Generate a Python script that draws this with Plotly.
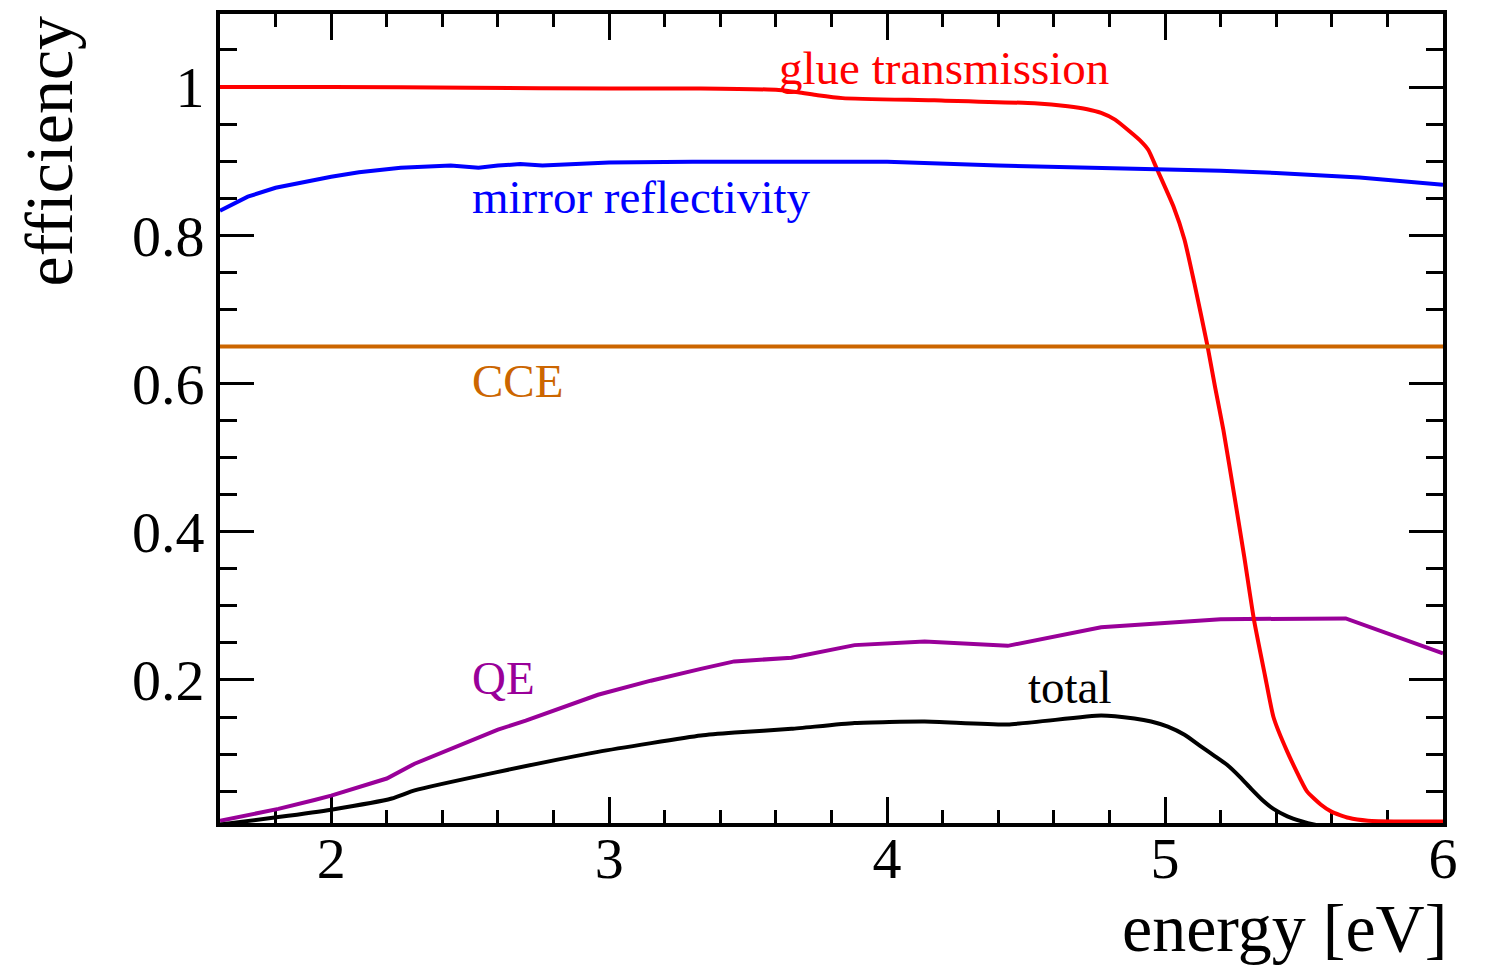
import plotly.graph_objects as go

# ---------------- data ----------------
glue_E = [1.6, 2.0, 2.5, 3.0, 3.33, 3.61, 3.68, 3.75, 3.84, 4.17, 4.53, 4.65, 4.72, 4.77,
          4.82, 4.87, 4.91, 4.94, 4.97, 5.03, 5.07, 5.105, 5.153, 5.18, 5.21, 5.25, 5.285,
          5.32, 5.36, 5.39, 5.44, 5.51, 5.56, 5.60, 5.66, 5.73, 5.85, 6.0]
glue_T = [1.0, 1.0, 0.999, 0.998, 0.998, 0.996, 0.993, 0.989, 0.985, 0.982, 0.978, 0.974,
          0.970, 0.965, 0.956, 0.941, 0.928, 0.915, 0.890, 0.839, 0.794, 0.736, 0.650,
          0.595, 0.537, 0.447, 0.366, 0.281, 0.205, 0.150, 0.103, 0.050, 0.032, 0.022,
          0.014, 0.010, 0.009, 0.009]

mirror_E = [1.6, 1.7, 1.8, 1.9, 2.0, 2.1, 2.25, 2.43, 2.53, 2.6, 2.68, 2.76, 3.0, 3.3,
            3.7, 4.0, 4.4, 4.8, 5.2, 5.4, 5.7, 6.0]
mirror_R = [0.833, 0.852, 0.864, 0.872, 0.879, 0.885, 0.891, 0.894, 0.891, 0.894, 0.896,
            0.894, 0.898, 0.899, 0.899, 0.899, 0.894, 0.891, 0.887, 0.884, 0.878, 0.868]

cce_E = [1.6, 6.0]
cce = [0.65, 0.65]

qe_E = [1.6, 1.81, 1.94, 2.0, 2.2, 2.3, 2.6, 2.7, 2.96, 3.15, 3.33, 3.45, 3.656, 3.883,
        4.135, 4.434, 4.77, 5.2, 5.65, 6.0]
qe = [0.010, 0.026, 0.038, 0.044, 0.067, 0.087, 0.133, 0.145, 0.180, 0.199, 0.215, 0.225,
      0.230, 0.247, 0.252, 0.246, 0.271, 0.282, 0.283, 0.236]

total_E = [1.6, 1.81, 2.0, 2.218, 2.3, 2.588, 2.96, 3.33, 3.452, 3.656, 3.883, 4.135,
           4.434, 4.77, 4.89, 4.95, 5.01, 5.07, 5.13, 5.18, 5.225, 5.27, 5.31, 5.35, 5.39,
           5.44, 5.49, 5.535, 5.6, 6.0]
total = [0.005, 0.015, 0.025, 0.040, 0.051, 0.075, 0.103, 0.125, 0.129, 0.134, 0.142,
         0.144, 0.140, 0.152, 0.148, 0.144, 0.137, 0.126, 0.110, 0.097, 0.085, 0.069,
         0.053, 0.038, 0.026, 0.016, 0.0095, 0.005, 0.001, 0.0]

y_tickvals = [0.2, 0.4, 0.6, 0.8, 1.0]
y_ticktext = ["0.2", "0.4", "0.6", "0.8", "1"]
x_tickvals = [2, 3, 4, 5, 6]
x_ticktext = ["2", "3", "4", "5", "6"]

# ---------------- styles ----------------
RED = "rgb(255,0,0)"
BLUE = "rgb(0,0,255)"
ORANGE = "rgb(204,102,0)"
PURPLE = "rgb(153,0,153)"
BLACK = "rgb(0,0,0)"
FONT = "Liberation Serif"
LW = 4

fig = go.Figure()
fig.add_trace(go.Scatter(x=qe_E, y=qe, mode="lines", line=dict(color=PURPLE, width=LW)))
fig.add_trace(go.Scatter(x=glue_E, y=glue_T, mode="lines",
                         line=dict(color=RED, width=LW, shape="spline", smoothing=0.5)))
fig.add_trace(go.Scatter(x=mirror_E, y=mirror_R, mode="lines", line=dict(color=BLUE, width=LW)))
fig.add_trace(go.Scatter(x=cce_E, y=cce, mode="lines", line=dict(color=ORANGE, width=LW)))
fig.add_trace(go.Scatter(x=total_E, y=total, mode="lines",
                         line=dict(color=BLACK, width=LW, shape="spline", smoothing=0.5)))

labels = [
    ("glue transmission", 3.605, 1.026, RED),
    ("mirror reflectivity", 2.50, 0.852, BLUE),
    ("CCE", 2.50, 0.603, ORANGE),
    ("QE", 2.50, 0.203, PURPLE),
    ("total", 4.500, 0.191, BLACK),
]
for txt, xx, yy, col in labels:
    fig.add_annotation(x=xx, y=yy, xref="x", yref="y", text=txt, showarrow=False,
                       xanchor="left", yanchor="middle",
                       font=dict(family=FONT, size=47, color=col))

# axis titles
fig.add_annotation(x=1, y=0, xref="paper", yref="paper", text="energy [eV]",
                   showarrow=False, xanchor="right", yanchor="top", xshift=6, yshift=-65,
                   font=dict(family=FONT, size=68, color="black"))
fig.add_annotation(x=0, y=1, xref="paper", yref="paper", text="efficiency",
                   showarrow=False, xanchor="left", yanchor="top", textangle=-90,
                   xshift=-212, yshift=0,
                   font=dict(family=FONT, size=68, color="black"))

axis_common = dict(showline=True, linecolor="black", linewidth=4, mirror="ticks",
                   ticks="inside", tickcolor="black", tickwidth=3, showgrid=False,
                   zeroline=False, layer="below traces",
                   tickfont=dict(family=FONT, size=58, color="black"))

fig.update_xaxes(range=[1.6, 6.0], tickvals=x_tickvals, ticktext=x_ticktext, ticklen=26,
                 minor=dict(dtick=0.2, tick0=2, ticklen=13, ticks="inside",
                            tickcolor="black", tickwidth=3, showgrid=False),
                 ticklabelstandoff=-19, **axis_common)
fig.update_yaxes(range=[0.007, 1.0985], tickvals=y_tickvals, ticktext=y_ticktext, ticklen=34,
                 minor=dict(dtick=0.05, tick0=0, ticklen=17, ticks="inside",
                            tickcolor="black", tickwidth=3, showgrid=False),
                 ticklabelstandoff=0, **axis_common)

fig.update_layout(width=1485, height=967, showlegend=False,
                  plot_bgcolor="white", paper_bgcolor="white",
                  margin=dict(l=220, r=42, t=14, b=144, autoexpand=False))

fig.write_html("out.html")
